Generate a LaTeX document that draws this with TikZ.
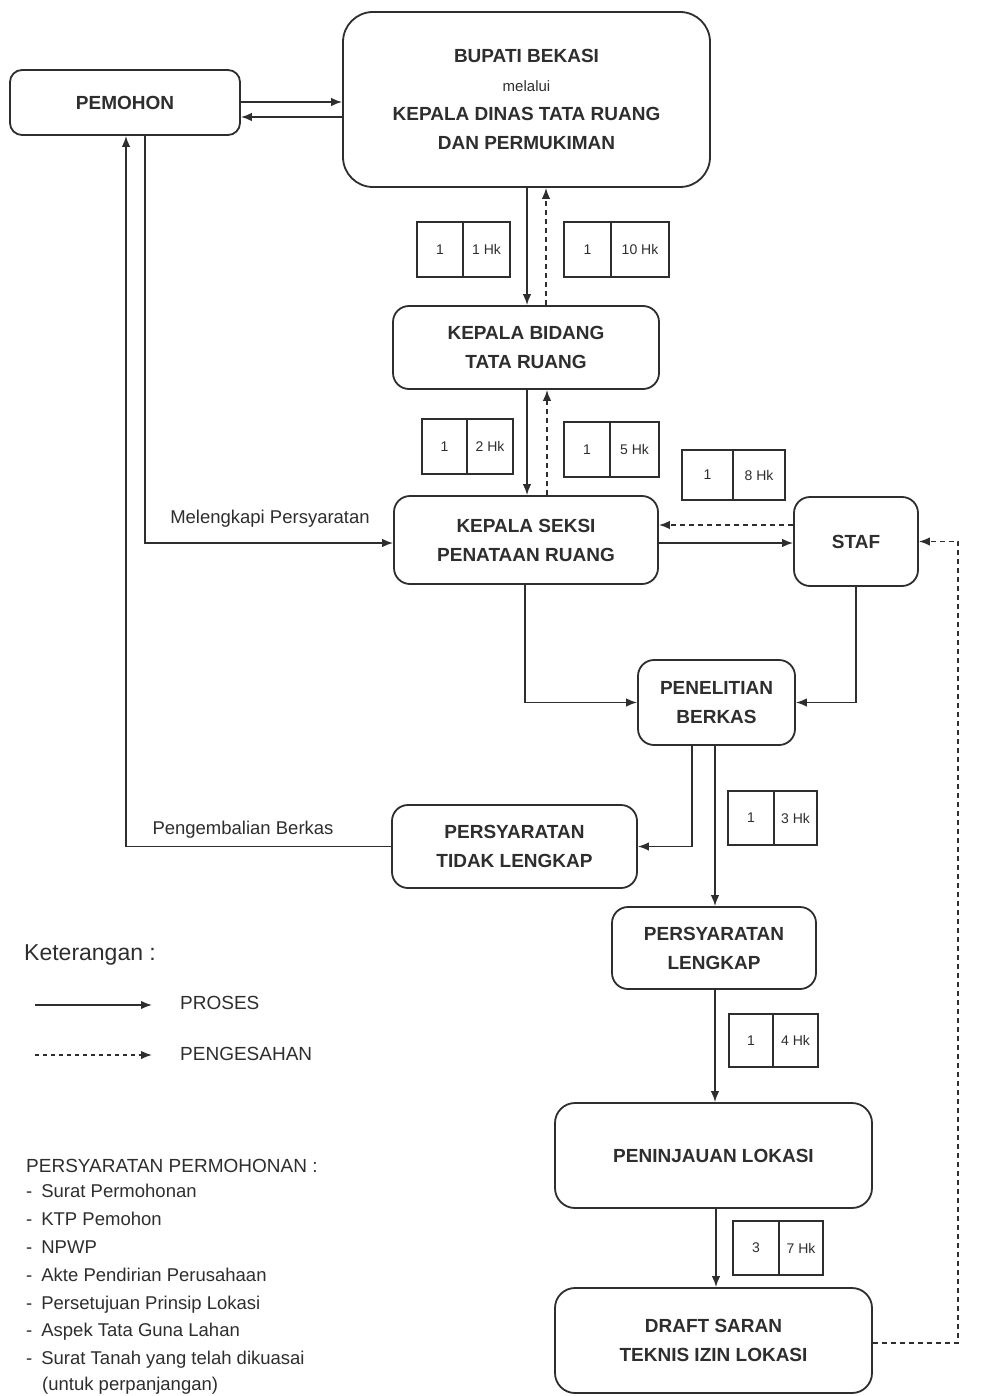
\documentclass[tikz,border=0pt]{standalone}
\usepackage{fontspec}
\setmainfont{Liberation Sans}
\usetikzlibrary{arrows.meta}
\definecolor{ink}{HTML}{2E2E2E}
\newcommand\bxfont{\fontsize{19}{29}\selectfont\bfseries}
\newcommand\lbfont{\fontsize{18.5}{22}\selectfont}
% duration box: name, x1, y1, divider x, x2, y2, count, days
\newcommand\hkcell[8]{%
  \draw[cellline] (#2,#3) rectangle (#5,#6) (#4,#3) -- (#4,#6);
  \node[celltext] (#1a) at ({(#2+#4)/2},{(#3+#6)/2}) {#7};
  \node[celltext] (#1b) at ({(#4+#5)/2},{(#3+#6)/2}) {#8};}
\begin{document}
\begin{tikzpicture}[x=1pt,y=-1pt,
  conn/.style={draw=ink, line width=1.6pt},
  proc/.style={conn, -{Latex[length=11pt,width=8.5pt]}},
  appr/.style={proc, dash pattern=on 5pt off 4pt},
  box/.style={draw=ink, line width=1.8pt, fill=white, align=center,
    font=\bxfont, text=ink, inner sep=0pt, rounded corners=14pt},
  cellline/.style={draw=ink, line width=1.4pt},
  celltext/.style={font=\fontsize{14}{16}\selectfont, text=ink, inner sep=0pt},
  lbl/.style={font=\lbfont, text=ink, inner sep=0pt}]
\useasboundingbox (0,0) rectangle (990,1396);
\fill[white] (0,0) rectangle (990,1396);

% process boxes
\node[box, minimum width=230pt, minimum height=65pt, rounded corners=12pt] (pem) at (125,102.5) {PEMOHON};
\node[box, minimum width=367pt, minimum height=175pt, rounded corners=30pt] (bup) at (526.5,99.5)
  {BUPATI BEKASI\\{\fontsize{15}{29}\selectfont\mdseries melalui}\\KEPALA DINAS TATA RUANG\\DAN PERMUKIMAN};
\node[box, minimum width=266pt, minimum height=83pt, rounded corners=16pt] (kb) at (526,347.5) {KEPALA BIDANG\\TATA RUANG};
\node[box, minimum width=264pt, minimum height=88pt, rounded corners=16pt] (ks) at (526,540) {KEPALA SEKSI\\PENATAAN RUANG};
\node[box, minimum width=124pt, minimum height=89pt, rounded corners=16pt] (staf) at (856,541.5) {STAF};
\node[box, minimum width=157pt, minimum height=85pt, rounded corners=16pt] (pen) at (716.5,702.5) {PENELITIAN\\BERKAS};
\node[box, minimum width=245pt, minimum height=83pt, rounded corners=16pt] (tl) at (514.5,846.5) {PERSYARATAN\\TIDAK LENGKAP};
\node[box, minimum width=204pt, minimum height=82pt, rounded corners=16pt] (lk) at (714,948) {PERSYARATAN\\LENGKAP};
\node[box, minimum width=317pt, minimum height=105pt, rounded corners=20pt] (pl) at (713.5,1155.5) {PENINJAUAN LOKASI};
\node[box, minimum width=317pt, minimum height=105pt, rounded corners=20pt] (dr) at (713.5,1340.5) {DRAFT SARAN\\TEKNIS IZIN LOKASI};

% connectors
\draw[proc] (pem.east |- 0,102) -- (bup.west |- 0,102);
\draw[proc] (bup.west |- 0,117) -- (pem.east |- 0,117);
\draw[proc] (bup.south -| 527,0) -- (kb.north -| 527,0);
\draw[appr] (kb.north -| 546,0) -- (bup.south -| 546,0);
\draw[proc] (kb.south -| 527,0) -- (ks.north -| 527,0);
\draw[appr] (ks.north -| 547,0) -- (kb.south -| 547,0);
\draw[proc] (ks.east |- 0,543) -- (staf.west |- 0,543);
\draw[appr] (staf.west |- 0,525) -- (ks.east |- 0,525);
\draw[proc] (ks.south -| 525,0) |- (pen.west);
\draw[proc] (staf.south) |- (pen.east);
\draw[proc] (pen.south -| 692,0) |- (tl.east);
\draw[proc] (pen.south -| 715,0) -- (lk.north -| 715,0);
\draw[proc] (lk.south -| 715,0) -- (pl.north -| 715,0);
\draw[proc] (pl.south -| 716,0) -- (dr.north -| 716,0);
\draw[proc] (tl.west) -| (pem.south -| 126,0);
\draw[proc] (pem.south -| 145,0) |- (ks.west |- 0,543);
\coordinate (rt) at (958,1343);
\draw[appr] (dr.east |- rt) -- (rt) |- (staf.east);

% connector labels
\node[lbl] (lbmp) at (270,519) {Melengkapi Persyaratan};
\node[lbl] (lbpb) at (243,830) {Pengembalian Berkas};

% duration boxes
\hkcell{d1}{417}{222}{463}{510}{277}{1}{1 Hk}
\hkcell{d2}{564}{222}{611}{669}{277}{1}{10 Hk}
\hkcell{d3}{422}{419}{467}{513}{474}{1}{2 Hk}
\hkcell{d4}{564}{422}{610}{659}{477}{1}{5 Hk}
\hkcell{d5}{682}{450}{733}{785}{500}{1}{8 Hk}
\hkcell{d6}{728}{791}{774}{817}{845}{1}{3 Hk}
\hkcell{d7}{729}{1014}{773}{818}{1067}{1}{4 Hk}
\hkcell{d8}{733}{1221}{779}{823}{1275}{3}{7 Hk}

% legend
\node[lbl, anchor=base west, font=\fontsize{23}{26}\selectfont] (ket) at (24,960) {Keterangan :};
\coordinate (lgA1) at (35,1005); \coordinate (lgA2) at (152,1005);
\coordinate (lgB1) at (35,1055); \coordinate (lgB2) at (152,1055);
\draw[proc] (lgA1) -- (lgA2);
\draw[appr, dash pattern=on 4pt off 4pt] (lgB1) -- (lgB2);
\node[lbl, anchor=west, font=\fontsize{19}{22}\selectfont] (lgA) at (180,1003) {PROSES};
\node[lbl, anchor=west, font=\fontsize{19}{22}\selectfont] (lgB) at (180,1054) {PENGESAHAN};

% application requirements
\node[lbl, anchor=base west, font=\fontsize{19}{22}\selectfont] (req) at (26,1172) {PERSYARATAN PERMOHONAN :};
\foreach \t [count=\i] in {Surat Permohonan, KTP Pemohon, NPWP, Akte Pendirian Perusahaan,
    Persetujuan Prinsip Lokasi, Aspek Tata Guna Lahan, Surat Tanah yang telah dikuasai}
  \node[lbl, anchor=base west] (req\i) at (26,{1170+27.8*\i}) {-\hskip 9pt\t};
\node[lbl, anchor=base west] (req8) at (42,1390) {(untuk perpanjangan)};
\end{tikzpicture}
\end{document}
